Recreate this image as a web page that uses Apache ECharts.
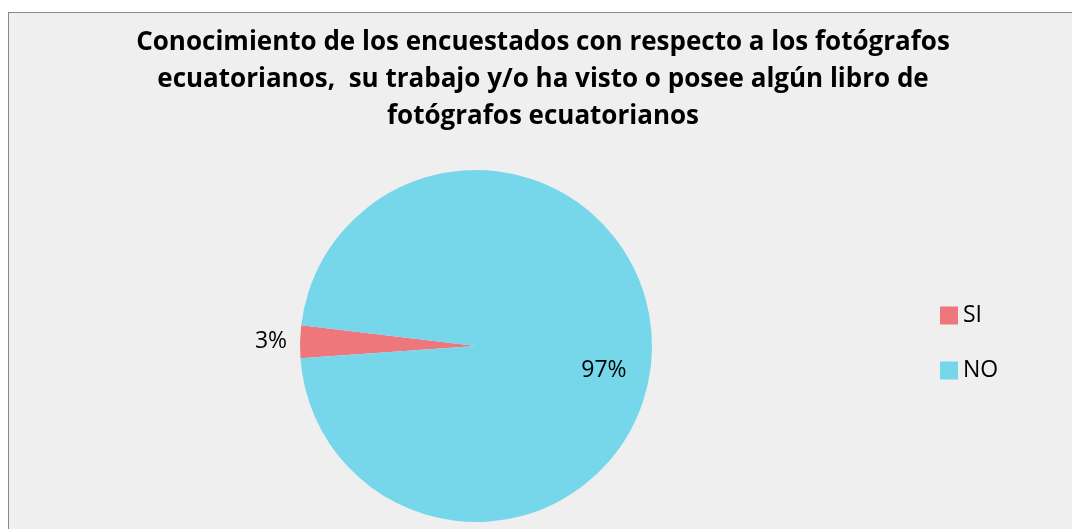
<!DOCTYPE html>
<html>
<head>
<meta charset="utf-8">
<script src="https://cdn.jsdelivr.net/npm/echarts@6/dist/echarts.min.js"></script>
<style>
  html, body { margin: 0; padding: 0; background: #ffffff; overflow: hidden; }
  #chart-container {
    position: absolute;
    left: 8px;
    top: 12px;
    width: 1100px;
    height: 540px;
    background: #efefef;
    border-left: 1px solid #8a8a8a;
    border-top: 1px solid #8a8a8a;
  }
</style>
</head>
<body>
<div id="chart-container"></div>
<script>
const categories = ["SI", "NO"];
const values = [3, 97];
const colors = ["#ee777b", "#76d6ea"];

const dom = document.getElementById("chart-container");
const myChart = echarts.init(dom, null, { renderer: "canvas" });

const option = {
  backgroundColor: "#efefef",
  textStyle: { fontFamily: "Open Sans" },
  title: {
    text:
      "Conocimiento de los encuestados con respecto a los fotógrafos\n" +
      "ecuatorianos,  su trabajo y/o ha visto o posee algún libro de\n" +
      "fotógrafos ecuatorianos",
    left: 529,
    top: 6,
    textAlign: "center",
    textStyle: {
      fontFamily: "Open Sans",
      fontWeight: "bold",
      fontSize: 26,
      lineHeight: 37,
      color: "#000000",
    },
  },
  legend: {
    orient: "vertical",
    left: 926,
    top: 286,
    itemWidth: 18,
    itemHeight: 18,
    itemGap: 32,
    icon: "rect",
    data: categories,
    textStyle: { fontSize: 23, color: "#000000", fontFamily: "Open Sans" },
  },
  series: [
    {
      type: "pie",
      center: [467, 333],
      radius: 176,
      startAngle: 184,
      clockwise: true,
      silent: true,
      data: categories.map(function (name, i) {
        const item = {
          name: name,
          value: values[i],
          itemStyle: { color: colors[i] },
        };
        if (i === 0) {
          item.label = { position: "outside" };
          item.labelLine = { show: false, length: 8, length2: 0 };
        } else {
          item.label = { position: "inside", offset: [37, 22] };
        }
        return item;
      }),
      label: {
        formatter: function (p) {
          return p.value + "%";
        },
        fontSize: 23,
        color: "#000000",
        fontFamily: "Open Sans",
      },
    },
  ],
};

myChart.setOption(option);
window.addEventListener("resize", myChart.resize);
</script>
</body>
</html>
